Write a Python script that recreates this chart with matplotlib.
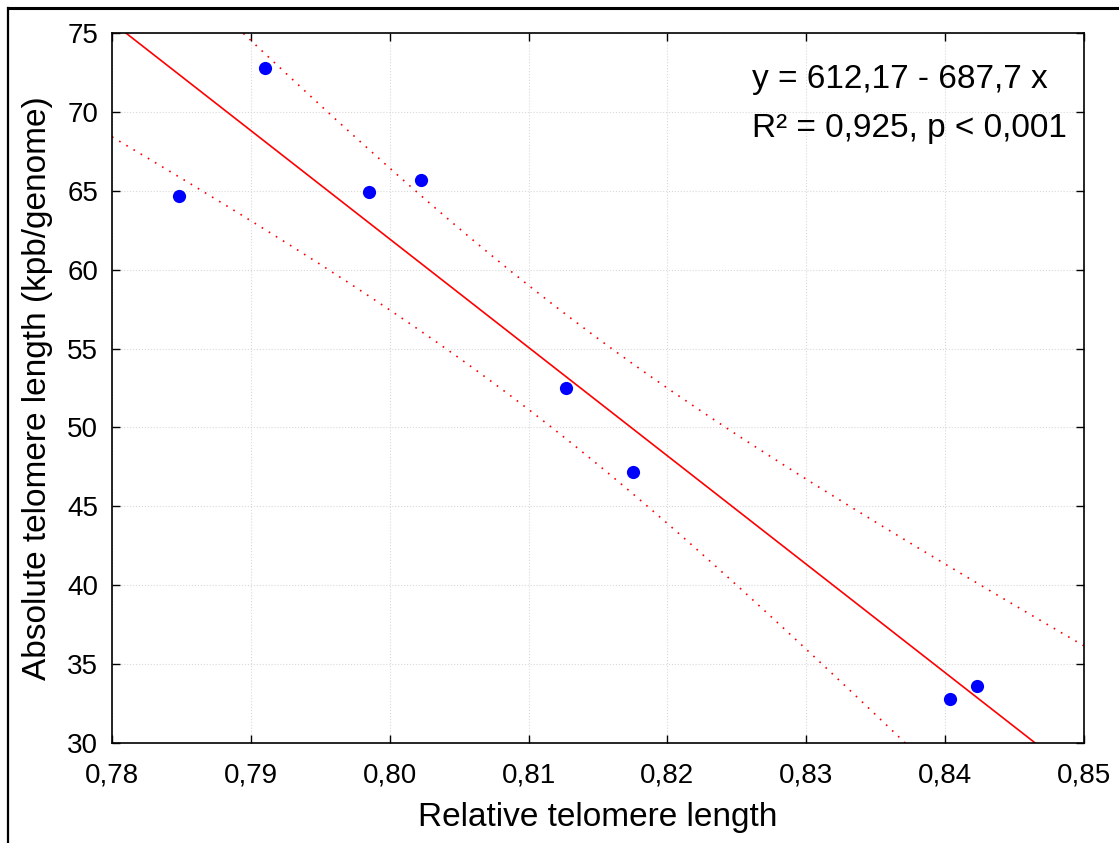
import numpy as np
import matplotlib.pyplot as plt
from matplotlib.ticker import FuncFormatter, MultipleLocator
from matplotlib.lines import Line2D

plt.rcParams['font.family'] = ['Liberation Sans', 'DejaVu Sans']

# Relative vs absolute telomere length
rel_tl = [0.7848, 0.7910, 0.7985, 0.80225, 0.81268, 0.81751, 0.84033, 0.84227]
abs_tl = [64.67, 72.78, 64.92, 65.68, 52.50, 47.18, 32.80, 33.62]

x = np.array(rel_tl)
y = np.array(abs_tl)
n = len(x)

# Linear fit and 95% confidence band of the mean
slope, intercept = np.polyfit(x, y, 1)
resid = y - (intercept + slope * x)
s = np.sqrt(np.sum(resid**2) / (n - 2))
sxx = np.sum((x - x.mean())**2)
t_crit = 2.4469  # t(0.975, df=6)

xx = np.linspace(0.78, 0.85, 300)
yy = intercept + slope * xx
half = t_crit * s * np.sqrt(1 / n + (xx - x.mean())**2 / sxx)

fig = plt.figure(figsize=(11.19, 8.43), dpi=100)
ax = fig.add_axes([0.1001, 0.1186, 0.8686, 0.8423])

ax.grid(True, color='#d9d9d9', linestyle=':', linewidth=0.8)
ax.set_axisbelow(True)

ax.plot(xx, yy, color='red', linewidth=1.2)
ax.plot(xx, yy + half, color='red', linewidth=1.2, linestyle=(0, (1, 4)))
ax.plot(xx, yy - half, color='red', linewidth=1.2, linestyle=(0, (1, 4)))
ax.plot(x, y, 'o', color='blue', markersize=9.5, markeredgewidth=0)

ax.set_xlim(0.78, 0.85)
ax.set_ylim(30, 75)
ax.xaxis.set_major_locator(MultipleLocator(0.01))
ax.yaxis.set_major_locator(MultipleLocator(5))
ax.xaxis.set_major_formatter(FuncFormatter(lambda v, p: f'{v:.2f}'.replace('.', ',')))
ax.yaxis.set_major_formatter(FuncFormatter(lambda v, p: f'{v:.0f}'))

ax.tick_params(direction='in', length=6, width=1, top=True, right=True,
               labelsize=20)
ax.tick_params(axis='x', pad=14)
ax.tick_params(axis='y', pad=10)
for sp in ax.spines.values():
    sp.set_linewidth(1.2)

ax.set_xlabel('Relative telomere length', fontsize=24)
ax.set_ylabel('Absolute telomere length (kpb/genome)', fontsize=24)
ax.xaxis.set_label_coords(0.5, -0.083)
ax.yaxis.set_label_coords(-0.0607, 0.5)

ax.text(0.6584, 0.934, 'y = 612,17 - 687,7 x', transform=ax.transAxes,
        fontsize=24, ha='left', va='center')
ax.text(0.6584, 0.866, 'R² = 0,925, p < 0,001', transform=ax.transAxes,
        fontsize=24, ha='left', va='center')

# Outer frame (top and left edges)
fig.add_artist(Line2D([8 / 1119, 1.0], [1 - 8 / 843, 1 - 8 / 843],
                      transform=fig.transFigure, color='black', linewidth=2.2))
fig.add_artist(Line2D([8 / 1119, 8 / 1119], [0, 1 - 8 / 843],
                      transform=fig.transFigure, color='black', linewidth=1.6))

fig.savefig('out.png', dpi=100)
